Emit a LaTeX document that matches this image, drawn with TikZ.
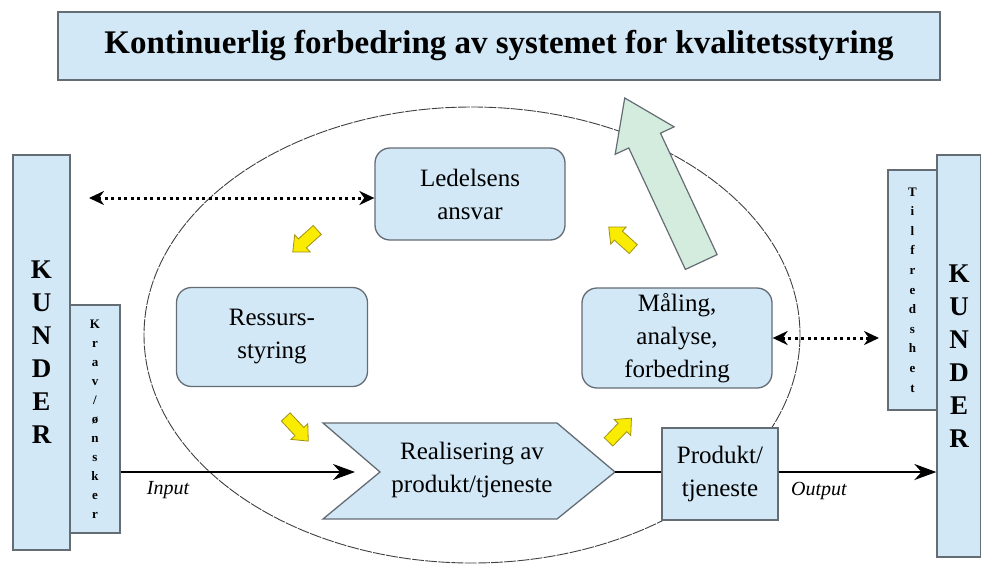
\documentclass[tikz,border=0pt]{standalone}
\usepackage{fontspec}
\setmainfont{Liberation Serif}
\usepackage{xcolor}
\definecolor{boxblue}{RGB}{210,232,246}
\definecolor{boxedge}{RGB}{100,108,116}
\definecolor{pilgul}{RGB}{250,236,0}
\definecolor{pilgulkant}{RGB}{160,145,20}
\definecolor{pilgronn}{RGB}{212,236,222}
\usepackage{tikz}
\usetikzlibrary{calc,positioning,arrows.meta}

% block arrow: centre, angle, length, shaft, head width, head length, style
\newcommand{\blokkpil}[7]{%
  \draw[#7, shift={#1}, rotate=#2] ({-#3/2},{-#4/2}) -- ({#3/2-#6},{-#4/2}) -- ({#3/2-#6},{-#5/2})
    -- ({#3/2},0) -- ({#3/2-#6},{#5/2}) -- ({#3/2-#6},{#4/2}) -- ({-#3/2},{#4/2}) -- cycle;}

\tikzset{
  boks/.style={draw=boxedge, line width=1.3pt, fill=boxblue, align=center,
    font=\fontsize{25}{33}\selectfont, inner sep=0pt},
  rundboks/.style={boks, rounded corners=15pt},
  kunde/.style={boks, font=\bfseries\fontsize{27}{33}\selectfont},
  smal/.style={boks, font=\bfseries\fontsize{13}{19}\selectfont},
  pil/.style={line width=2.4pt, -{Stealth[length=22pt,width=16pt]}},
  dobbelpil/.style={line width=3pt, dash pattern=on 3pt off 3.5pt,
    {Stealth[length=15pt,width=14pt]}-{Stealth[length=15pt,width=14pt]}},
  gul/.style={draw=pilgulkant, line width=0.8pt, fill=pilgul},
  gronn/.style={draw=boxedge, line width=1.2pt, fill=pilgronn},
}

\begin{document}
\begin{tikzpicture}[x=1pt, y=-1pt]
  \useasboundingbox (0,0) rectangle (981,565);

  % the cycle
  \draw[black!75, line width=0.9pt, dash pattern=on 12pt off 1.2pt] (472,335) ellipse [x radius=328, y radius=228];

  \node[boks, minimum width=882, minimum height=68, font=\bfseries\fontsize{33}{38}\selectfont]
    (titel) at (499,46) {Kontinuerlig forbedring av systemet for kvalitetsstyring};

  % customers
  \node[kunde, minimum width=57, minimum height=395] (kunderV) at (41.5,352.5) {K\\U\\N\\D\\E\\R};
  \node[smal, minimum width=50, minimum height=228] (krav) at (95,419) {K\\r\\a\\v\\/\\ø\\n\\s\\k\\e\\r};
  \node[smal, minimum width=49, minimum height=240, font=\bfseries\fontsize{13}{19.6}\selectfont]
    (tilfreds) at (912.5,290) {T\\i\\l\\f\\r\\e\\d\\s\\h\\e\\t};
  \node[kunde, minimum width=44, minimum height=402] (kunderH) at (959,356) {K\\U\\N\\D\\E\\R};

  % processes
  \node[rundboks, minimum width=190, minimum height=92] (ledelse) at (470,194) {Ledelsens\\ansvar};
  \node[rundboks, minimum width=191, minimum height=99] (ressurs) at (272,337) {Ressurs-\\styring};
  \node[rundboks, minimum width=190, minimum height=100] (maaling) at (677,338) {Måling,\\analyse,\\forbedring};

  \coordinate (realnotch) at (380,472);
  \coordinate (realtip) at (615,472);
  \draw[draw=boxedge, line width=1.3pt, fill=boxblue]
    (323,423) -- (557,423) -- (realtip) -- (557,519) -- (323,519) -- (realnotch) -- cycle;
  \node[align=center, font=\fontsize{25}{33}\selectfont, inner sep=0pt] (real) at (472,470)
    {Realisering av\\produkt/tjeneste};

  \node[boks, minimum width=116, minimum height=92] (produkt) at (720,474) {Produkt/\\tjeneste};

  % flow
  \coordinate (inputend) at (355,472);
  \draw[pil] (krav.east |- realnotch) -- (inputend);
  \draw[line width=2.4pt] (realtip) -- (produkt.west |- realtip);
  \draw[pil] (produkt.east |- realtip) -- (kunderH.west |- realtip);
  \node[font=\itshape\fontsize{20}{24}\selectfont] (input) at (168,490) {Input};
  \node[font=\itshape\fontsize{20}{24}\selectfont] (output) at (819,491) {Output};

  \coordinate (dialog) at (89,198);
  \draw[dobbelpil] (dialog) -- (ledelse.west |- dialog);
  \coordinate (maalt) at (879,338);
  \draw[dobbelpil] (maaling.east) -- (maalt);

  % yellow arrows round the cycle
  \blokkpil{(305,241)}{222}{33}{12}{23}{13}{gul}
  \blokkpil{(297,429)}{-47}{33}{12}{23}{13}{gul}
  \blokkpil{(620,430)}{46}{33}{12}{23}{13}{gul}
  \blokkpil{(621,238)}{138}{33}{12}{23}{13}{gul}

  % improvement
  \blokkpil{(663,180)}{115}{181}{35}{65}{47}{gronn}
\end{tikzpicture}
\end{document}
